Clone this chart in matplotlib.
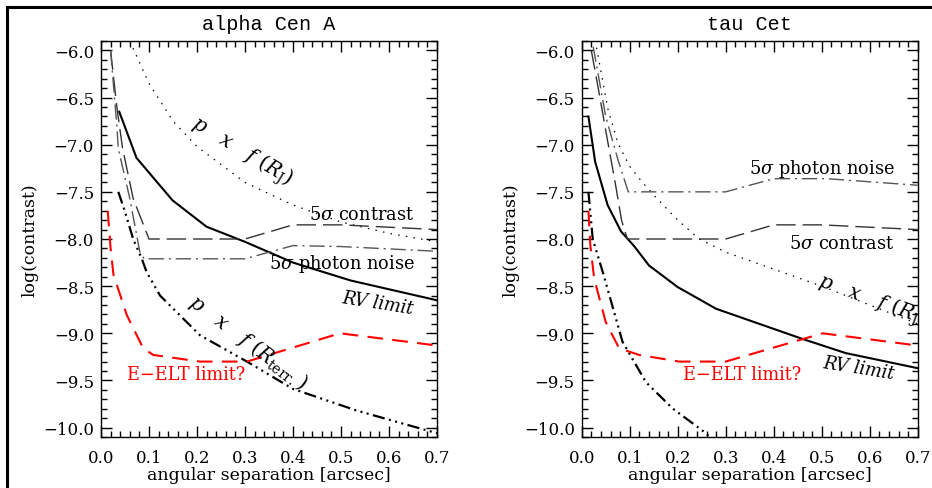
import matplotlib
matplotlib.use("Agg")
import matplotlib.pyplot as plt
from matplotlib.patches import Rectangle
from matplotlib.ticker import MultipleLocator

plt.rcParams['font.family'] = ['DejaVu Serif']
plt.rcParams['mathtext.fontset'] = 'dejavuserif'

# ---- alpha Cen A ----
a_rv_x = [0.038, 0.074, 0.149, 0.22, 0.30, 0.40, 0.52, 0.70]
a_rv_y = [-6.65, -7.14, -7.59, -7.87, -8.03, -8.25, -8.44, -8.65]
a_rj_x = [0.06, 0.10, 0.15, 0.20, 0.30, 0.40, 0.50, 0.60, 0.70]
a_rj_y = [-5.90, -6.35, -6.75, -7.02, -7.40, -7.64, -7.82, -7.94, -8.03]
a_con_x = [0.02, 0.033, 0.045, 0.067, 0.10, 0.30, 0.40, 0.50, 0.70]
a_con_y = [-6.00, -6.60, -7.04, -7.57, -8.00, -8.00, -7.85, -7.85, -7.90]
a_pho_x = [0.02, 0.033, 0.036, 0.06, 0.081, 0.09, 0.30, 0.40, 0.50, 0.70]
a_pho_y = [-6.00, -6.80, -7.04, -7.57, -8.14, -8.21, -8.21, -8.07, -8.08, -8.13]
a_ter_x = [0.036, 0.05, 0.067, 0.085, 0.095, 0.123, 0.206, 0.304, 0.40, 0.533, 0.70]
a_ter_y = [-7.50, -7.71, -8.00, -8.21, -8.35, -8.60, -9.02, -9.30, -9.59, -9.82, -10.06]
a_elt_x = [0.014, 0.02, 0.026, 0.054, 0.088, 0.109, 0.206, 0.304, 0.498, 0.70]
a_elt_y = [-7.70, -8.10, -8.38, -8.81, -9.16, -9.23, -9.30, -9.30, -9.00, -9.13]

# ---- tau Cet ----
t_rv_x = [0.014, 0.028, 0.054, 0.082, 0.11, 0.14, 0.20, 0.28, 0.46, 0.55, 0.70]
t_rv_y = [-6.70, -7.18, -7.64, -7.92, -8.08, -8.28, -8.51, -8.74, -9.06, -9.21, -9.37]
t_rj_x = [0.028, 0.055, 0.076, 0.10, 0.125, 0.153, 0.20, 0.245, 0.30, 0.40, 0.50, 0.60, 0.70]
t_rj_y = [-5.89, -6.63, -6.99, -7.23, -7.39, -7.55, -7.80, -8.00, -8.14, -8.32, -8.50, -8.70, -8.90]
t_con_x = [0.02, 0.038, 0.055, 0.069, 0.083, 0.095, 0.30, 0.40, 0.50, 0.70]
t_con_y = [-6.00, -6.50, -6.99, -7.38, -7.80, -8.00, -8.00, -7.85, -7.85, -7.90]
t_pho_x = [0.024, 0.05, 0.075, 0.097, 0.30, 0.40, 0.51, 0.70]
t_pho_y = [-5.96, -6.70, -7.15, -7.50, -7.50, -7.36, -7.36, -7.43]
t_ter_x = [0.014, 0.023, 0.045, 0.085, 0.134, 0.19, 0.259, 0.27]
t_ter_y = [-7.50, -8.00, -8.37, -9.09, -9.52, -9.80, -10.06, -10.12]
t_elt_x = [0.014, 0.018, 0.026, 0.05, 0.078, 0.12, 0.203, 0.30, 0.502, 0.70]
t_elt_y = [-7.70, -8.07, -8.42, -8.88, -9.16, -9.23, -9.30, -9.30, -9.00, -9.13]

fig = plt.figure(figsize=(9.32, 4.89), dpi=100)
fig.add_artist(Rectangle((7/932, -0.2), 1.2, 1.2 - 8/489, transform=fig.transFigure,
                         fill=False, lw=2.2, ec='black'))

ax1 = fig.add_axes([101/932, 51/489, 336/932, 396/489])
ax2 = fig.add_axes([581.7/932, 51/489, 336/932, 396/489])


def draw(ax, rv, rj, con, pho, ter, elt):
    ax.plot(*rv, color='black', lw=1.5, solid_joinstyle='miter')
    ax.plot(*rj, color='black', lw=0.9, dashes=(1.2, 5))
    ax.plot(*con, color='#333333', lw=1.0, dashes=(14, 5))
    ax.plot(*pho, color='#555555', lw=1.0, dashes=(11, 3.5, 1.5, 3.5))
    ax.plot(*ter, color='black', lw=1.6, dashes=(5.5, 2, 0.9, 2, 0.9, 2, 0.9, 2))
    ax.plot(*elt, color='red', lw=1.5, dashes=(7.5, 4.5))
    ax.set_xlim(0, 0.7)
    ax.set_ylim(-10.1, -5.9)
    ax.xaxis.set_major_locator(MultipleLocator(0.1))
    ax.xaxis.set_minor_locator(MultipleLocator(0.02))
    ax.yaxis.set_major_locator(MultipleLocator(0.5))
    ax.yaxis.set_minor_locator(MultipleLocator(0.1))
    ax.tick_params(which='both', direction='in', top=True, right=True, width=1.0)
    ax.tick_params(which='major', length=8)
    ax.tick_params(which='minor', length=4.5)
    ax.tick_params(axis='x', which='major', pad=9, labelsize=12)
    ax.tick_params(axis='y', which='major', pad=5, labelsize=12)
    for s in ax.spines.values():
        s.set_linewidth(1.0)
    ax.set_xlabel('angular separation [arcsec]', fontsize=12.5, labelpad=0)
    ax.set_ylabel('log(contrast)', fontsize=12.5, labelpad=3)


draw(ax1, (a_rv_x, a_rv_y), (a_rj_x, a_rj_y), (a_con_x, a_con_y),
     (a_pho_x, a_pho_y), (a_ter_x, a_ter_y), (a_elt_x, a_elt_y))
draw(ax2, (t_rv_x, t_rv_y), (t_rj_x, t_rj_y), (t_con_x, t_con_y),
     (t_pho_x, t_pho_y), (t_ter_x, t_ter_y), (t_elt_x, t_elt_y))

ax1.set_title('alpha Cen A', family='Liberation Mono', fontsize=14.5, pad=9)
ax2.set_title('tau Cet', family='Liberation Mono', fontsize=14.5, pad=9)

lab = dict(ha='center', va='center', fontsize=12.8)
pxf = dict(ha='center', va='center', fontsize=14.5)
ax1.text(0.292, -7.07, r'$p\ \ \ x\ \ \ f\ (R_{\rm J})$', rotation=-31, **pxf)
ax1.text(0.307, -9.09, r'$p\ \ \ x\ \ \ f\ (R_{\rm terr.})$', rotation=-37, **pxf)
ax1.text(0.543, -7.74, r'5$\sigma$ contrast', **lab)
ax1.text(0.501, -8.25, r'5$\sigma$ photon noise', **lab)
ax1.text(0.577, -8.68, 'RV limit', rotation=-9, style='italic', **lab)
ax1.text(0.178, -9.43, 'E\u2212ELT limit?', color='red', **lab)

ax2.text(0.50, -7.25, r'5$\sigma$ photon noise', **lab)
ax2.text(0.542, -8.04, r'5$\sigma$ contrast', **lab)
ax2.text(0.605, -8.65, r'$p\ \ \ x\ \ \ f\ (R_{\rm J})$', rotation=-20, clip_on=True, **pxf)
ax2.text(0.577, -9.37, 'RV limit', rotation=-9, style='italic', **lab)
ax2.text(0.3345, -9.43, 'E\u2212ELT limit?', color='red', **lab)

fig.savefig('out.png', dpi=100)
